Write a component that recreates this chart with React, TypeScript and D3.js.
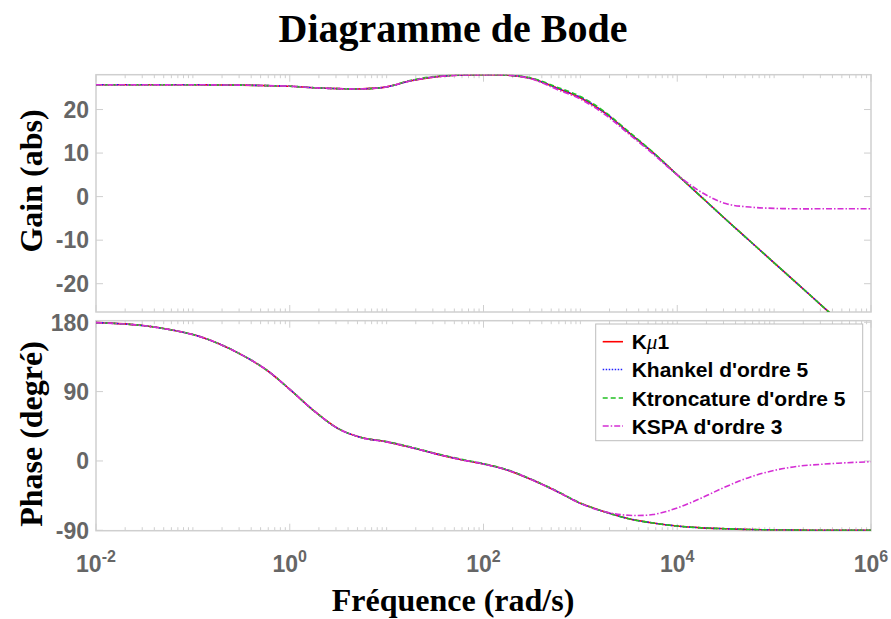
import React from "react";
import * as d3 from "d3";

// frequency grid (rad/s)
const freq = [0.01, 0.0316, 0.1, 0.178, 0.316, 0.562, 1, 1.78, 3.16, 5.62, 10, 17.8, 31.6, 56.2, 100, 178, 316, 562,
  1000, 1780, 3160, 5620, 10000, 17800, 31600, 56200, 100000, 178000, 316000, 562000, 1000000];

// gain curves
const gainKmu1 = [25.7, 25.7, 25.7, 25.65, 25.6, 25.5, 25.35, 25.0, 24.8, 24.75, 25.2, 26.6, 27.5, 27.9, 28.0, 27.9, 27.1, 25.0,
  22.7, 19.3, 14.7, 10.1, 5.0, -0.1, -5.2, -10.2, -15.2, -20.2, -25.2, -30.2, -35.2];
const gainHankel = [25.7, 25.7, 25.7, 25.65, 25.6, 25.5, 25.35, 25.0, 24.8, 24.75, 25.2, 26.6, 27.5, 27.9, 28.0, 27.9, 27.1, 25.0,
  22.8, 19.3, 14.7, 10.1, 5.0, -0.1, -5.2, -10.2, -15.2, -20.2, -25.2, -30.2, -35.2];
const gainTronc = [25.7, 25.7, 25.7, 25.65, 25.6, 25.5, 25.35, 25.0, 24.8, 24.75, 25.2, 26.7, 27.6, 27.95, 28.0, 27.9, 27.2, 25.2,
  23.0, 19.5, 14.9, 10.2, 5.0, -0.1, -5.2, -10.2, -15.2, -20.2, -25.2, -30.2, -35.2];
const gainSPA = [25.7, 25.7, 25.7, 25.65, 25.6, 25.5, 25.35, 25.0, 24.8, 24.75, 25.2, 26.6, 27.5, 27.9, 28.0, 27.9, 27.0, 24.7,
  22.4, 18.9, 14.4, 9.8, 5.0, 1.0, -1.6, -2.4, -2.7, -2.8, -2.8, -2.8, -2.8];

// phase curves (degrees)
const phaseKmu1 = [179.5, 175.5, 164, 153, 138, 119, 93, 65, 42, 30, 24.8, 17.5, 9.5, 2.2, -4, -12, -24.5, -39,
  -55, -66, -75, -80.5, -84.5, -86.8, -88, -89, -89.5, -89.8, -90, -90, -90];
const phaseHankel = [179.5, 175.5, 164, 153, 138, 119, 93, 65, 42, 30, 24.8, 17.5, 9.5, 2.2, -4, -12, -24.5, -39,
  -55, -66, -75, -80.5, -84.5, -86.8, -88, -89, -89.5, -89.8, -90, -90, -90];
const phaseTronc = [179.5, 175.5, 164, 153, 138, 119, 93, 65, 42, 30, 25.3, 18, 10, 2.8, -3.5, -11.5, -24, -38.5,
  -54.5, -66, -75, -80.5, -84.5, -86.8, -88, -89, -89.5, -89.8, -90, -90, -90];
const phaseSPA = [179.5, 175.5, 164, 153, 138, 119, 93, 65, 42, 30, 24.8, 17.5, 9.5, 2.2, -4, -12, -24.5, -39,
  -55, -66, -70.5, -69.5, -61, -48, -33.5, -21, -12.3, -6.8, -4.2, -2.3, -1];

const seriesNames = ["K\u03bc1", "Khankel d'ordre 5", "Ktroncature d'ordre 5", "KSPA d'ordre 3"];
const seriesColors = ["#ff0000", "#2020ff", "#22c022", "#d42ed4"];
const seriesDash = ["none", "1.5,1.5", "5,3", "6,2,1.5,2"];

const gainTicks = [-20, -10, 0, 10, 20];
const phaseTicks = [-90, 0, 90, 180];
const freqMajor = [1e-2, 1e0, 1e2, 1e4, 1e6];
const freqMajorExp = ["-2", "0", "2", "4", "6"];

const W = 891, H = 619;
const left = 96, right = 871;
const gainTop = 74.7, gainBottom = 312;
const phaseTop = 320.7, phaseBottom = 530.7;

const serif = "'Liberation Serif', 'Times New Roman', serif";
const sans = "'Liberation Sans', Arial, sans-serif";
const axisCol = "#cfcfcf";
const tickCol = "#666666";

const x = d3.scaleLog().domain([1e-2, 1e6]).range([left, right]);
const yGain = d3.scaleLinear().domain([-26.5, 28]).range([gainBottom, gainTop]);
const yPhase = d3.scaleLinear().domain([-90.5, 182]).range([phaseBottom, phaseTop]);

const minorTicks: number[] = [];
for (let e = -2; e < 6; e++) {
  for (let k = 1; k < 10; k++) {
    const v = k * Math.pow(10, e);
    if (!(k === 1 && e % 2 === 0)) minorTicks.push(v);
  }
}

const Panel = ({ top, bottom, y, ticks, series, id }: {
  top: number; bottom: number; y: d3.ScaleLinear<number, number>; ticks: number[]; series: number[][]; id: string;
}) => {
  const line = d3.line<number>()
    .x((d, i) => x(freq[i]))
    .y((d) => y(d))
    .curve(d3.curveCatmullRom.alpha(0.5));
  return (
    <g>
      <defs>
        <clipPath id={id}>
          <rect x={left} y={top} width={right - left} height={bottom - top} />
        </clipPath>
      </defs>
      <rect x={left} y={top} width={right - left} height={bottom - top} fill="white" stroke={axisCol} strokeWidth={1.5} />
      {minorTicks.map((v, i) => (
        <g key={"m" + i} stroke={axisCol} strokeWidth={1}>
          <line x1={x(v)} x2={x(v)} y1={bottom} y2={bottom - 3.5} />
          <line x1={x(v)} x2={x(v)} y1={top} y2={top + 3.5} />
        </g>
      ))}
      {freqMajor.map((v, i) => (
        <g key={"M" + i} stroke={axisCol} strokeWidth={1}>
          <line x1={x(v)} x2={x(v)} y1={bottom} y2={bottom - 7} />
          <line x1={x(v)} x2={x(v)} y1={top} y2={top + 7} />
        </g>
      ))}
      {ticks.map((t) => (
        <g key={"y" + t}>
          <line x1={left} x2={left + 7} y1={y(t)} y2={y(t)} stroke={axisCol} />
          <line x1={right} x2={right - 7} y1={y(t)} y2={y(t)} stroke={axisCol} />
          <text x={left - 7} y={y(t)} dy="0.36em" textAnchor="end" fontFamily={sans} fontWeight="bold" fontSize={23} fill={tickCol}>{t}</text>
        </g>
      ))}
      <g clipPath={`url(#${id})`}>
        {series.map((s, i) => (
          <path key={i} d={line(s) || ""} fill="none" stroke={seriesColors[i]} strokeWidth={1.6}
            strokeDasharray={seriesDash[i]} />
        ))}
      </g>
    </g>
  );
};

export default function App() {
  const legX = 595.7, legY = 324, legW = 267, legH = 116.7;
  const rowY = [341.7, 369.5, 398, 426];
  return (
    <svg width={W} height={H} style={{ position: "absolute", left: 0, top: 0, background: "white" }}>
      <text x={453} y={41.5} textAnchor="middle" fontFamily={serif} fontWeight="bold" fontSize={40}>Diagramme de Bode</text>

      <Panel id="clipGain" top={gainTop} bottom={gainBottom} y={yGain} ticks={gainTicks}
        series={[gainKmu1, gainHankel, gainTronc, gainSPA]} />
      <Panel id="clipPhase" top={phaseTop} bottom={phaseBottom} y={yPhase} ticks={phaseTicks}
        series={[phaseKmu1, phaseHankel, phaseTronc, phaseSPA]} />

      {freqMajor.map((v, i) => (
        <text key={"xl" + i} x={x(v)} y={571.5} textAnchor="middle" fontFamily={sans} fontWeight="bold" fontSize={23} fill={tickCol}>
          10<tspan dy={-10} fontSize={16}>{freqMajorExp[i]}</tspan>
        </text>
      ))}

      <text transform={`translate(42,181) rotate(-90)`} textAnchor="middle" fontFamily={serif} fontWeight="bold" fontSize={32}>Gain (abs)</text>
      <text transform={`translate(42,434) rotate(-90)`} textAnchor="middle" fontFamily={serif} fontWeight="bold" fontSize={32}>Phase (degré)</text>
      <text x={453} y={611} textAnchor="middle" fontFamily={serif} fontWeight="bold" fontSize={32}>Fréquence (rad/s)</text>

      <rect x={legX} y={legY} width={legW} height={legH} fill="white" stroke="#bdbdbd" strokeWidth={1} />
      {seriesNames.map((n, i) => (
        <g key={"lg" + i}>
          <line x1={602.7} x2={623} y1={rowY[i]} y2={rowY[i]} stroke={seriesColors[i]} strokeWidth={1.6} strokeDasharray={seriesDash[i]} />
          <text x={631.7} y={rowY[i]} dy="0.36em" fontFamily={sans} fontWeight="bold" fontSize={21}>
            {i === 0 ? (<>K<tspan fontFamily={serif} fontStyle="italic" fontWeight="normal">{"\u03bc"}</tspan>1</>) : n}
          </text>
        </g>
      ))}
    </svg>
  );
}
